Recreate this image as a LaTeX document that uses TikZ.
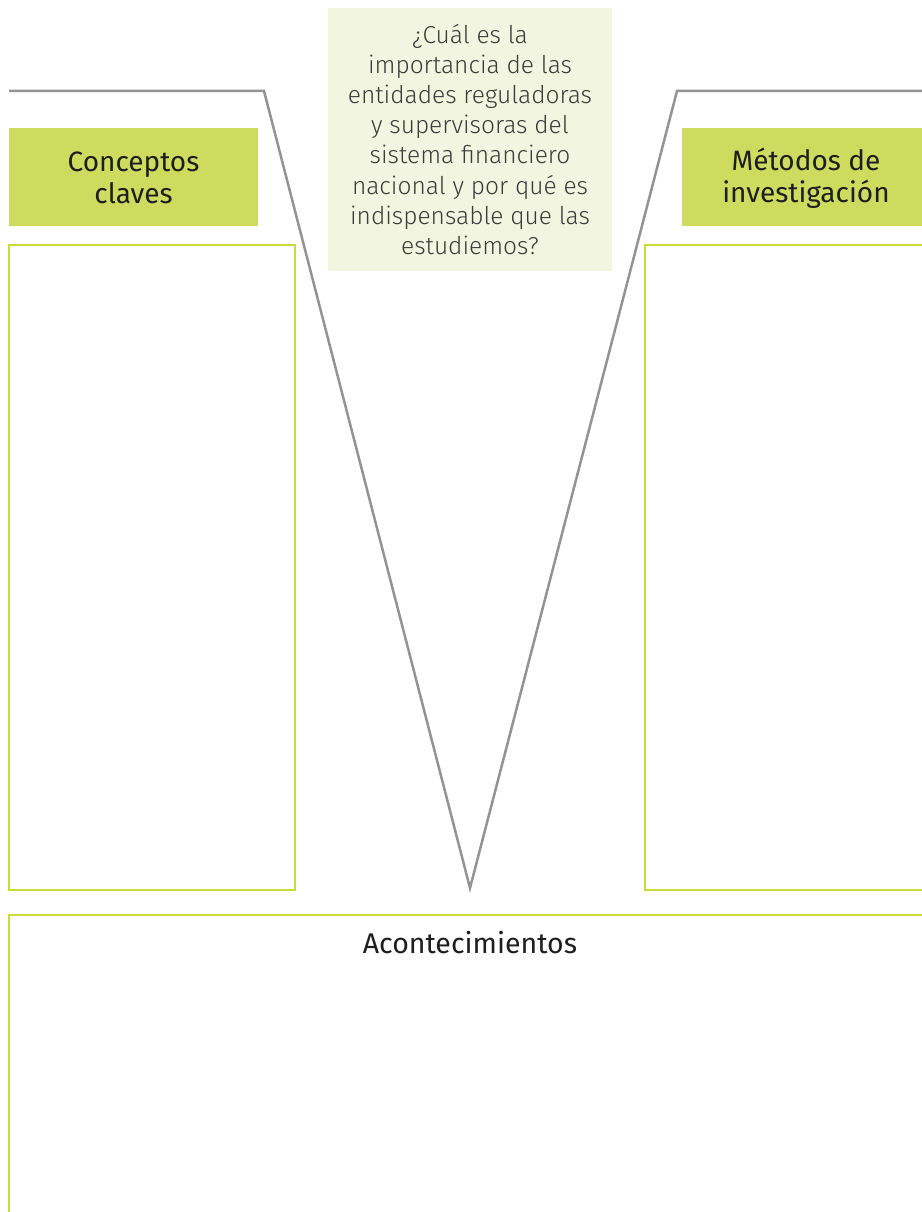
\documentclass[tikz,border=0pt]{standalone}
\usepackage{fontspec}
\setmainfont{Fira Sans}
\newfontfamily\lightfont{Fira Sans Light}
\definecolor{hdrgreen}{RGB}{205,220,95}
\definecolor{boxgreen}{RGB}{200,220,60}
\definecolor{qfill}{RGB}{242,246,224}
\definecolor{vgray}{RGB}{147,147,147}
\definecolor{txtdark}{RGB}{30,30,30}
\definecolor{txtq}{RGB}{60,60,60}
\begin{document}
\begin{tikzpicture}[x=1pt,y=-1pt,
  hdr/.style={fill=hdrgreen,draw=none},
  outline/.style={draw=boxgreen,line width=2.4pt},
  vline/.style={draw=vgray,line width=2.5pt,line join=miter},
  hdrtext/.style={font=\fontsize{28}{32}\selectfont,text=txtdark,align=center},
  acttext/.style={font=\fontsize{28.5}{32}\selectfont,text=txtdark,align=center},
  qtext/.style={font=\lightfont\fontsize{24.5}{30.1}\selectfont,text=txtq,align=center}]
\useasboundingbox (0,0) rectangle (921,1212);
% question box
\fill[qfill] (328,8) rectangle (612,271);
\node[qtext] (q) at (470,139.5) {¿Cuál es la\\importancia de las\\entidades reguladoras\\y supervisoras del\\sistema financiero\\nacional y por qué es\\indispensable que las\\estudiemos?};
% V lines
\coordinate (lstart) at (9,91);
\coordinate (lcorner) at (264,91);
\coordinate (vtip) at (470,888);
\coordinate (rcorner) at (677,91);
\coordinate (rend) at (925,91);
\draw[vline] (lstart) -- (lcorner) -- (vtip) -- (rcorner) -- (rend);
% headers
\fill[hdr] (9,128) rectangle (258,226);
\node[hdrtext] (h1) at (133.5,178) {Conceptos\\claves};
\fill[hdr] (682,128) rectangle (925,226);
\node[hdrtext] (h2) at (806,178) {Métodos de\\investigación};
% boxes
\draw[outline] (9,245) rectangle (295,890);
\draw[outline] (930,245) -- (645,245) -- (645,890) -- (930,890);
\draw[outline] (930,915) -- (9,915) -- (9,1220);
\node[acttext] (a) at (470,943) {Acontecimientos};
\end{tikzpicture}
\end{document}
